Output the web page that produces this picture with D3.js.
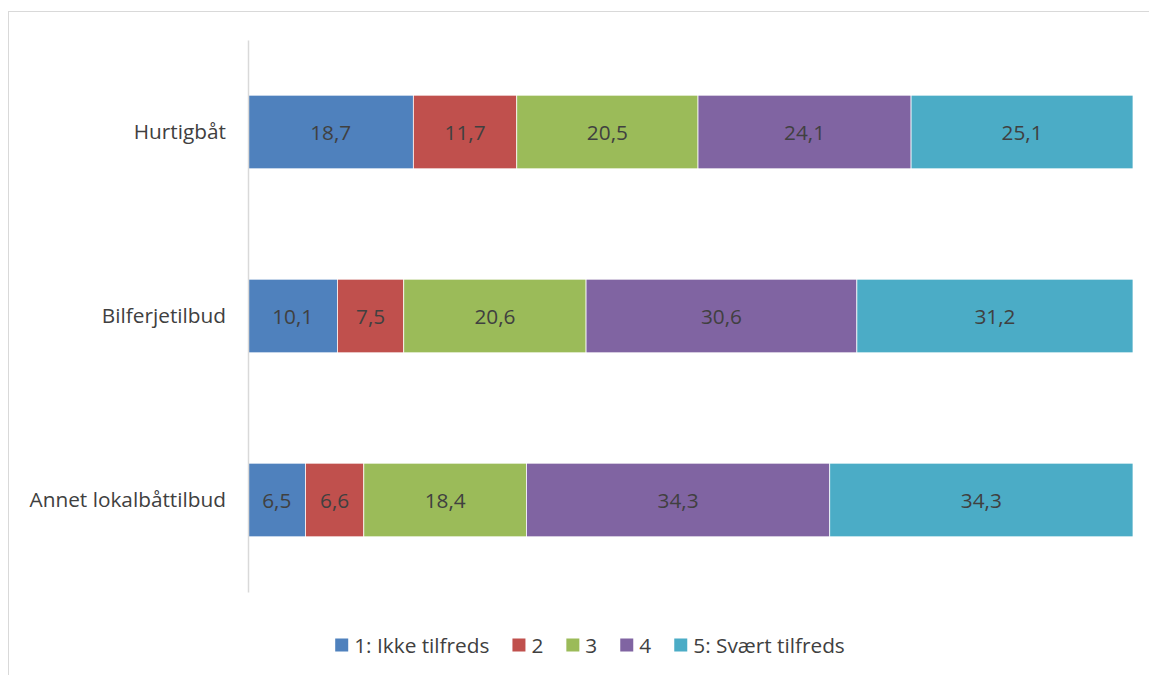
<!DOCTYPE html>
<html>
<head>
<meta charset="utf-8">
<script src="https://cdn.jsdelivr.net/npm/d3@7"></script>
<style>
  html, body { margin: 0; padding: 0; background: #fff; }
  svg text { font-family: "Open Sans", "Liberation Sans", sans-serif; fill: #404040; }
</style>
</head>
<body>
<svg id="chart" width="1149" height="675"></svg>
<script>
// Satisfaction shares (%) per service, stacked to 100
const categories = ["Hurtigbåt", "Bilferjetilbud", "Annet lokalbåttilbud"];
const seriesNames = ["1: Ikke tilfreds", "2", "3", "4", "5: Svært tilfreds"];
const s1 = [18.7, 10.1, 6.5];
const s2 = [11.7, 7.5, 6.6];
const s3 = [20.5, 20.6, 18.4];
const s4 = [24.1, 30.6, 34.3];
const s5 = [25.1, 31.2, 34.3];
const colors = ["#4F81BD", "#C0504D", "#9BBB59", "#8064A2", "#4BACC6"];

const seriesValues = [s1, s2, s3, s4, s5];
const rows = categories.map((c, i) => {
  const r = { category: c };
  seriesNames.forEach((n, j) => { r[n] = seriesValues[j][i]; });
  return r;
});

const svg = d3.select("#chart");
const fontSize = 20.8;

// chart frame
svg.append("rect")
  .attr("x", 8.5).attr("y", 11.5)
  .attr("width", 1200).attr("height", 700)
  .attr("fill", "#fff").attr("stroke", "#d9d9d9").attr("stroke-width", 1);

const plot = { left: 248, right: 1133, top: 40, bottom: 592 };

const y = d3.scaleBand()
  .domain(categories)
  .range([plot.top, plot.bottom])
  .paddingInner(0.6)
  .paddingOuter(0.3);

const x = d3.scaleLinear().domain([0, 1]).range([plot.left, plot.right]);

const stack = d3.stack().keys(seriesNames).offset(d3.stackOffsetExpand);
const layers = stack(rows);

const g = svg.append("g");
layers.forEach((layer, j) => {
  const lg = g.append("g");
  lg.selectAll("rect")
    .data(layer)
    .join("rect")
    .attr("x", d => x(d[0]))
    .attr("y", d => y(d.data.category))
    .attr("width", d => x(d[1]) - x(d[0]))
    .attr("height", y.bandwidth())
    .attr("fill", colors[j])
    .attr("stroke", "#fff")
    .attr("stroke-width", 0.75);
  lg.selectAll("text")
    .data(layer)
    .join("text")
    .attr("x", d => (x(d[0]) + x(d[1])) / 2)
    .attr("y", d => y(d.data.category) + y.bandwidth() / 2)
    .attr("text-anchor", "middle")
    .attr("dominant-baseline", "central")
    .attr("font-size", fontSize)
    .text(d => d3.format(".1f")(d.data[layer.key]).replace(".", ","));
});

// category axis
const yAxis = d3.axisLeft(y).tickSize(0).tickPadding(22);
const ya = svg.append("g").attr("transform", `translate(${plot.left},0)`).call(yAxis);
ya.select(".domain").attr("stroke", "#d9d9d9").attr("stroke-width", 1.5);
ya.selectAll("text").attr("font-size", fontSize).attr("fill", "#404040")
  .attr("font-family", "\"Open Sans\", \"Liberation Sans\", sans-serif");

// legend
const legend = svg.append("g");
const items = legend.selectAll("g").data(seriesNames).join("g");
items.append("rect").attr("width", 13).attr("height", 13).attr("y", -6.5)
  .attr("fill", (d, i) => colors[i]);
items.append("text").attr("x", 19).attr("dominant-baseline", "central")
  .attr("font-size", fontSize).text(d => d);
let lx = 0;
items.each(function () {
  const w = this.getBBox().width;
  d3.select(this).attr("transform", `translate(${lx},0)`);
  lx += w + 23;
});
lx -= 23;
legend.attr("transform", `translate(${590 - lx / 2},645)`);
</script>
</body>
</html>
